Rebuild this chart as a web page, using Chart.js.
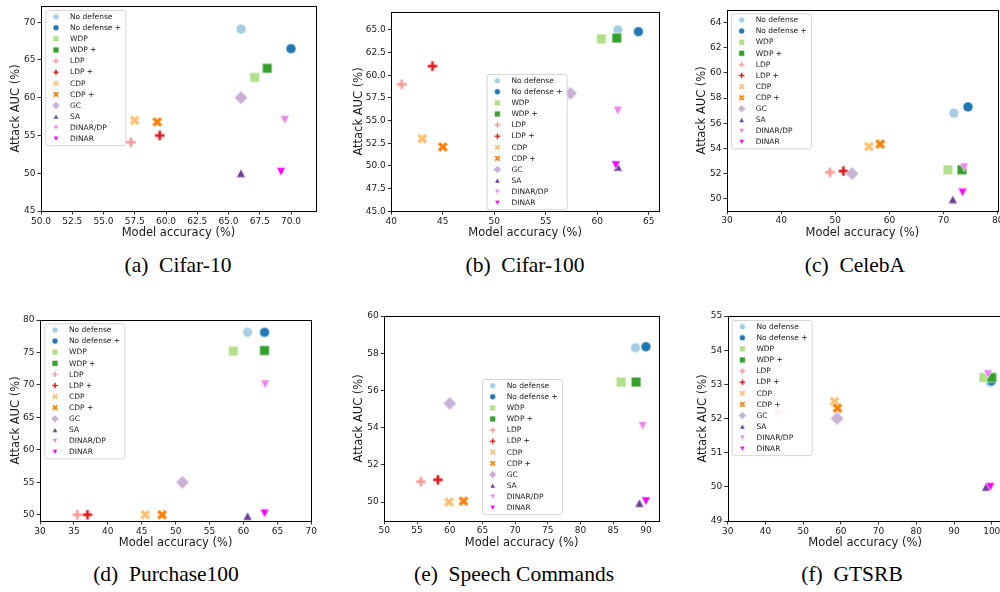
<!DOCTYPE html>
<html><head><meta charset="utf-8">
<script src="https://cdn.jsdelivr.net/npm/chart.js@4.4.0/dist/chart.umd.min.js"></script>
<style>
html,body{margin:0;padding:0;background:#fff;overflow:hidden;width:1000px;height:592px;position:relative}
canvas{position:absolute}
.cap{position:absolute;font-family:"Liberation Serif","Times New Roman",serif;font-size:21.5px;line-height:21.5px;color:#000;white-space:nowrap;transform:translateX(-50%)}
</style></head><body>
<canvas id="cA"></canvas><canvas id="cB"></canvas><canvas id="cC"></canvas>
<canvas id="cD"></canvas><canvas id="cE"></canvas><canvas id="cF"></canvas>
<div class="cap" style="left:178px;top:255px">(a)&nbsp;&nbsp;Cifar-10</div>
<div class="cap" style="left:525px;top:255px">(b)&nbsp;&nbsp;Cifar-100</div>
<div class="cap" style="left:855px;top:255px">(c)&nbsp;&nbsp;CelebA</div>
<div class="cap" style="left:166px;top:564px">(d)&nbsp;&nbsp;Purchase100</div>
<div class="cap" style="left:514px;top:564px">(e)&nbsp;&nbsp;Speech Commands</div>
<div class="cap" style="left:852px;top:564px">(f)&nbsp;&nbsp;GTSRB</div>
<script>
// ---------------- DATA ----------------
const methods = ["No defense","No defense +","WDP","WDP +","LDP","LDP +","CDP","CDP +","GC","SA","DINAR/DP","DINAR"];

const cifar10Acc = [66.0, 70.0, 67.1, 68.1, 57.2, 59.5, 57.5, 59.3, 66.0, 66.0, 69.5, 69.2];
const cifar10Auc = [69.1, 66.5, 62.7, 63.9, 54.1, 55.0, 57.0, 56.8, 60.0, 50.0, 57.1, 50.2];
const cifar10XTicks = [50, 52.5, 55, 57.5, 60, 62.5, 65, 67.5, 70];
const cifar10YTicks = [45, 50, 55, 60, 65, 70];

const cifar100Acc = [62.0, 64.0, 60.4, 61.9, 41.0, 44.0, 43.0, 45.0, 57.4, 62.0, 62.0, 61.8];
const cifar100Auc = [65.0, 64.8, 64.0, 64.1, 59.0, 61.0, 53.0, 52.1, 58.0, 49.9, 56.1, 50.1];
const cifar100XTicks = [40, 45, 50, 55, 60, 65];
const cifar100YTicks = [45, 47.5, 50, 52.5, 55, 57.5, 60, 62.5, 65];

const celebaAcc = [71.9, 74.5, 70.8, 73.4, 49.0, 51.5, 56.2, 58.3, 53.1, 71.7, 73.8, 73.5];
const celebaAuc = [56.8, 57.3, 52.3, 52.3, 52.1, 52.2, 54.15, 54.35, 52.0, 49.95, 52.5, 50.5];
const celebaXTicks = [30, 40, 50, 60, 70, 80];
const celebaYTicks = [50, 52, 54, 56, 58, 60, 62, 64];

const purchaseAcc = [60.6, 63.1, 58.5, 63.1, 35.5, 37.0, 45.5, 48.0, 51.0, 60.6, 63.2, 63.1];
const purchaseAuc = [78.1, 78.1, 75.2, 75.3, 50.0, 50.0, 50.0, 50.0, 55.0, 49.8, 70.1, 50.2];
const purchaseXTicks = [30, 35, 40, 45, 50, 55, 60, 65, 70];
const purchaseYTicks = [50, 55, 60, 65, 70, 75, 80];

const speechAcc = [88.4, 90.0, 86.2, 88.5, 55.6, 58.2, 59.9, 62.1, 60.0, 89.0, 89.5, 90.0];
const speechAuc = [58.3, 58.35, 56.45, 56.45, 51.1, 51.2, 50.0, 50.05, 55.3, 49.95, 54.1, 50.05];
const speechXTicks = [50, 55, 60, 65, 70, 75, 80, 85, 90];
const speechYTicks = [50, 52, 54, 56, 58, 60];

const gtsrbAcc = [99.6, 99.9, 97.9, 100.0, 43.2, 44.5, 58.3, 59.1, 59.0, 98.5, 99.0, 99.6];
const gtsrbAuc = [53.05, 53.1, 53.2, 53.2, 52.2, 52.15, 52.5, 52.3, 52.0, 50.0, 53.3, 50.0];
const gtsrbXTicks = [30, 40, 50, 60, 70, 80, 90, 100];
const gtsrbYTicks = [49, 50, 51, 52, 53, 54, 55];

// ---------------- STYLE ----------------
const colors = ['#a6cee3','#1f78b4','#b2df8a','#33a02c','#fb9a99','#e31a1c','#fdbf6f','#ff7f00','#cab2d6','#6a3d9a','#ee82ee','#ff00ff'];
const shapes = ['circle','circle','square','square','plus','plus','x','x','diamond','tri','tridown','tridown'];
const SANS = '"DejaVu Sans", Verdana, sans-serif';
const TXT = '#1a1a1a';
const TITLE_SIZE = 11.5;

function drawMarker(ctx, shape, x, y, s, color) {
  ctx.beginPath();
  const poly = (pts, rot) => {
    const c = Math.cos(rot), sn = Math.sin(rot);
    pts.forEach((p, i) => {
      const px = x + p[0]*c - p[1]*sn, py = y + p[0]*sn + p[1]*c;
      if (i === 0) ctx.moveTo(px, py); else ctx.lineTo(px, py);
    });
    ctx.closePath();
  };
  const plusPts = (a, t) => [[-t,-a],[t,-a],[t,-t],[a,-t],[a,t],[t,t],[t,a],[-t,a],[-t,t],[-a,t],[-a,-t],[-t,-t]];
  switch (shape) {
    case 'circle': ctx.arc(x, y, s/2, 0, Math.PI*2); break;
    case 'square': { const h = s*0.485; ctx.rect(x-h, y-h, 2*h, 2*h); break; }
    case 'diamond': { const h = s*0.67; poly([[0,-h],[h,0],[0,h],[-h,0]], 0); break; }
    case 'tri': { const w = s*0.45, h = s*0.42; poly([[0,-h],[w,h],[-w,h]], 0); break; }
    case 'tridown': { const w = s*0.45, h = s*0.42; poly([[0,h],[w,-h],[-w,-h]], 0); break; }
    case 'plus': { const a = s*0.5; poly(plusPts(a, a/3), 0); break; }
    case 'x': { const a = s*0.55; poly(plusPts(a, a/3), Math.PI/4); break; }
  }
  ctx.fillStyle = color; ctx.fill();
  ctx.lineWidth = 0.6; ctx.strokeStyle = '#fff'; ctx.stroke();
}

function markerCanvas(shape, color, s, alpha) {
  const ext = Math.ceil(s*0.8)*2 + 4;
  const c = document.createElement('canvas');
  c.width = ext; c.height = ext;
  const ctx = c.getContext('2d');
  ctx.globalAlpha = alpha == null ? 1 : alpha;
  drawMarker(ctx, shape, ext/2, ext/2, s, color);
  return c;
}

const framePlugin = {
  id: 'frame',
  afterDatasetsDraw(chart) {
    const a = chart.chartArea, ctx = chart.ctx;
    ctx.save();
    ctx.strokeStyle = '#000'; ctx.lineWidth = 1;
    const l = Math.round(a.left) + 0.5, t = Math.round(a.top) + 0.5;
    const r = Math.round(a.right) + 0.5, b = Math.round(a.bottom) + 0.5;
    ctx.strokeRect(l, t, r - l, b - t);
    ctx.restore();
  }
};

const legendPlugin = {
  id: 'boxLegend',
  afterDraw(chart, args, opts) {
    const ctx = chart.ctx;
    const x0 = opts.x, y0 = opts.y, w = 80, pitch = 11.1, first = 6.2;
    const h = first + pitch*(methods.length - 1) + 6.8;
    ctx.save();
    ctx.beginPath();
    ctx.roundRect(x0 + 0.5, y0 + 0.5, w, h, 2.5);
    ctx.fillStyle = 'rgba(255,255,255,0.8)'; ctx.fill();
    ctx.strokeStyle = '#cccccc'; ctx.lineWidth = 0.8; ctx.stroke();
    ctx.font = '7.5px ' + SANS;
    ctx.textBaseline = 'middle'; ctx.textAlign = 'left';
    chart.data.datasets.forEach((ds, i) => {
      const yy = y0 + first + i*pitch + 0.5;
      drawMarker(ctx, shapes[i], x0 + 10.7, yy, 6, colors[i]);
      ctx.fillStyle = TXT;
      ctx.fillText(ds.label, x0 + 24.7, yy + 0.3);
    });
    ctx.restore();
  }
};

function makeChart(id, spec) {
  const cv = document.getElementById(id);
  const b = spec.box, a = spec.area;
  cv.width = b.w; cv.height = b.h;
  cv.style.left = b.x + 'px'; cv.style.top = b.y + 'px';
  cv.style.width = b.w + 'px'; cv.style.height = b.h + 'px';
  const lh = TITLE_SIZE * 1.2;
  const padLeft = spec.ytitleX - b.x - lh/2;
  const yAxisW = a.L - b.x - padLeft;
  const xBottom = spec.xtitleY + lh/2;
  const padBottom = b.y + b.h - xBottom;
  const xAxisH = xBottom - a.B;
  const padTop = a.T - b.y;
  const padRight = b.x + b.w - a.R;
  const alphas = spec.alpha || {};
  const datasets = methods.map((m, i) => ({
    label: m,
    data: [{x: spec.acc[i], y: spec.auc[i]}],
    pointStyle: markerCanvas(shapes[i], colors[i], 10, alphas[i]),
    pointRadius: 5,
    backgroundColor: colors[i],
    borderColor: '#fff',
    order: methods.length - i,
    clip: false
  }));
  const tickFont = {family: SANS, size: 9};
  const titleFont = {family: SANS, size: TITLE_SIZE};
  const grid = {display: true, drawOnChartArea: false, drawTicks: true, tickLength: 3.5, color: '#000', lineWidth: 0.8};
  new Chart(cv, {
    type: 'scatter',
    data: {datasets},
    options: {
      responsive: false, animation: false, events: [],
      layout: {padding: {left: padLeft, top: padTop, right: padRight, bottom: padBottom}},
      plugins: {legend: {display: false}, tooltip: {enabled: false},
        boxLegend: {x: spec.legend.x - b.x, y: spec.legend.y - b.y}},
      scales: {
        x: {
          type: 'linear', min: spec.xr[0], max: spec.xr[1],
          afterBuildTicks: s => { s.ticks = spec.xTicks.map(v => ({value: v})); },
          afterFit: s => { s.height = xAxisH; s.paddingLeft = 0; s.paddingRight = 0; },
          ticks: {autoSkip: false, maxRotation: 0, font: tickFont, color: TXT, padding: 1.5,
            callback: v => Number(v).toFixed(spec.xDec)},
          grid: grid, border: {display: false},
          title: {display: true, text: 'Model accuracy (%)', font: titleFont, color: TXT, padding: 0}
        },
        y: {
          type: 'linear', min: spec.yr[0], max: spec.yr[1],
          afterBuildTicks: s => { s.ticks = spec.yTicks.map(v => ({value: v})); },
          afterFit: s => { s.width = yAxisW; s.paddingTop = 0; s.paddingBottom = 0; },
          ticks: {autoSkip: false, font: tickFont, color: TXT, padding: 2,
            callback: v => Number(v).toFixed(spec.yDec)},
          grid: grid, border: {display: false},
          title: {display: true, text: 'Attack AUC (%)', font: titleFont, color: TXT, padding: 0}
        }
      }
    },
    plugins: [framePlugin, legendPlugin]
  });
}

const col = [{x: 0, w: 335}, {x: 335, w: 330}, {x: 665, w: 370}];
const row = [{y: 0, h: 250}, {y: 300, h: 262}];
const bx = (c, r) => ({x: col[c].x, w: col[c].w, y: row[r].y, h: row[r].h});

makeChart('cA', {box: bx(0,0), area: {L: 41, T: 5, R: 316, B: 211}, ytitleX: 16, xtitleY: 233,
  acc: cifar10Acc, auc: cifar10Auc, xr: [50, 72], yr: [45, 72.15], xTicks: cifar10XTicks, yTicks: cifar10YTicks,
  xDec: 1, yDec: 0, legend: {x: 45.3, y: 10}});
makeChart('cB', {box: bx(1,0), area: {L: 391.3, T: 11.7, R: 660, B: 211.3}, ytitleX: 359.5, xtitleY: 233,
  acc: cifar100Acc, auc: cifar100Auc, xr: [40, 66], yr: [45, 67], xTicks: cifar100XTicks, yTicks: cifar100YTicks,
  xDec: 0, yDec: 1, legend: {x: 486.7, y: 74}});
makeChart('cC', {box: bx(2,0), area: {L: 727, T: 10, R: 997.7, B: 210.7}, ytitleX: 702, xtitleY: 233,
  acc: celebaAcc, auc: celebaAuc, xr: [30, 80], yr: [49.05, 65], xTicks: celebaXTicks, yTicks: celebaYTicks,
  xDec: 0, yDec: 0, legend: {x: 731, y: 13.3}});
makeChart('cD', {box: bx(0,1), area: {L: 40, T: 320, R: 311.3, B: 521}, ytitleX: 16, xtitleY: 543,
  acc: purchaseAcc, auc: purchaseAuc, xr: [30, 70], yr: [49.03, 80], xTicks: purchaseXTicks, yTicks: purchaseYTicks,
  xDec: 0, yDec: 0, legend: {x: 44.3, y: 323.3}});
makeChart('cE', {box: bx(1,1), area: {L: 384.3, T: 316, R: 659.3, B: 520.7}, ytitleX: 359.5, xtitleY: 543,
  acc: speechAcc, auc: speechAuc, xr: [50, 92], yr: [49, 60], xTicks: speechXTicks, yTicks: speechYTicks,
  xDec: 0, yDec: 0, legend: {x: 482, y: 379}});
makeChart('cF', {box: bx(2,1), area: {L: 727.7, T: 316, R: 1002.5, B: 521}, ytitleX: 703, xtitleY: 543,
  acc: gtsrbAcc, auc: gtsrbAuc, xr: [30, 102.85], yr: [49, 55], xTicks: gtsrbXTicks, yTicks: gtsrbYTicks,
  xDec: 0, yDec: 0, legend: {x: 731.7, y: 320}, alpha: {4: 0.45, 5: 0.12}});
</script>
</body></html>
